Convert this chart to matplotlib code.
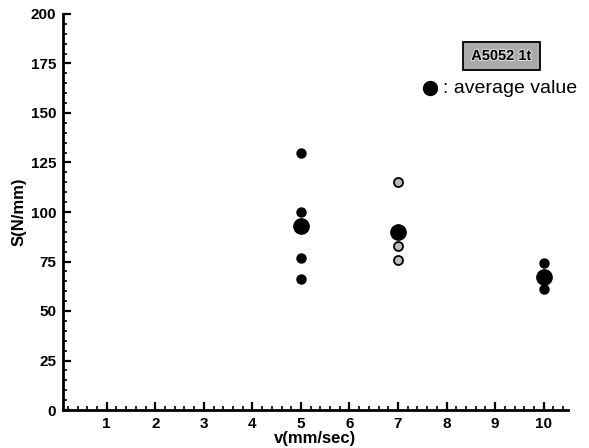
import matplotlib
matplotlib.use('Agg')
import matplotlib.pyplot as plt
from matplotlib.ticker import MultipleLocator
from matplotlib.patches import Rectangle
import matplotlib.patheffects as pe

plt.rcParams['font.family'] = ['Liberation Sans', 'DejaVu Sans']

# measured points (black)
v_black = [5, 5, 5, 5, 10, 10]
s_black = [130, 100, 77, 66, 74, 61]
# measured points (gray)
v_gray = [7, 7, 7]
s_gray = [115, 83, 76]
# averages
v_avg = [5, 7, 10]
s_avg = [93, 90, 67]

fig = plt.figure(figsize=(5.89, 4.48), dpi=100)
ax = fig.add_axes([63/589, 38/448, 505/589, 396/448])

ax.plot(v_black, s_black, 'o', color='black', markersize=6.5, zorder=3)
ax.plot(v_gray, s_gray, 'o', markerfacecolor='#bbbbbb', markeredgecolor='black',
        markeredgewidth=1.3, markersize=6.5, zorder=3)
ax.plot(v_avg, s_avg, 'o', color='black', markersize=11, zorder=4)

ax.set_xlim(0.1, 10.5)
ax.set_ylim(0, 200)
ax.xaxis.set_major_locator(MultipleLocator(1))
ax.xaxis.set_minor_locator(MultipleLocator(0.2))
ax.yaxis.set_major_locator(MultipleLocator(25))
ax.yaxis.set_minor_locator(MultipleLocator(5))
ax.set_xticks(range(1, 11))

for side in ['top', 'right']:
    ax.spines[side].set_visible(False)
for side in ['left', 'bottom']:
    ax.spines[side].set_linewidth(2)

ax.tick_params(which='major', direction='in', length=6, width=1.6, labelsize=11, pad=5)
ax.tick_params(which='minor', direction='in', length=3, width=1.2)
for lbl in ax.get_xticklabels() + ax.get_yticklabels():
    lbl.set_fontweight('bold')

ax.set_xlabel('v(mm/sec)', fontsize=12, fontweight='bold', labelpad=0)
ax.set_ylabel('S(N/mm)', fontsize=12, fontweight='bold', labelpad=3)

# title box
ax.add_patch(Rectangle((0.792, 0.859), 0.152, 0.0707, transform=ax.transAxes,
                       facecolor='#aaaaaa', edgecolor='black', linewidth=1.3, clip_on=False))
ax.text(0.868, 0.894, 'A5052 1t', transform=ax.transAxes, ha='center', va='center',
        fontsize=10.5, fontweight='bold',
        path_effects=[pe.withStroke(linewidth=1.5, foreground='#dddddd')])

# average legend
ax.plot([0.727], [0.813], 'o', color='black', markersize=10, transform=ax.transAxes, clip_on=False)
ax.text(0.753, 0.813, ': average value', transform=ax.transAxes, ha='left', va='center', fontsize=14)

fig.savefig('out.png', dpi=100)
